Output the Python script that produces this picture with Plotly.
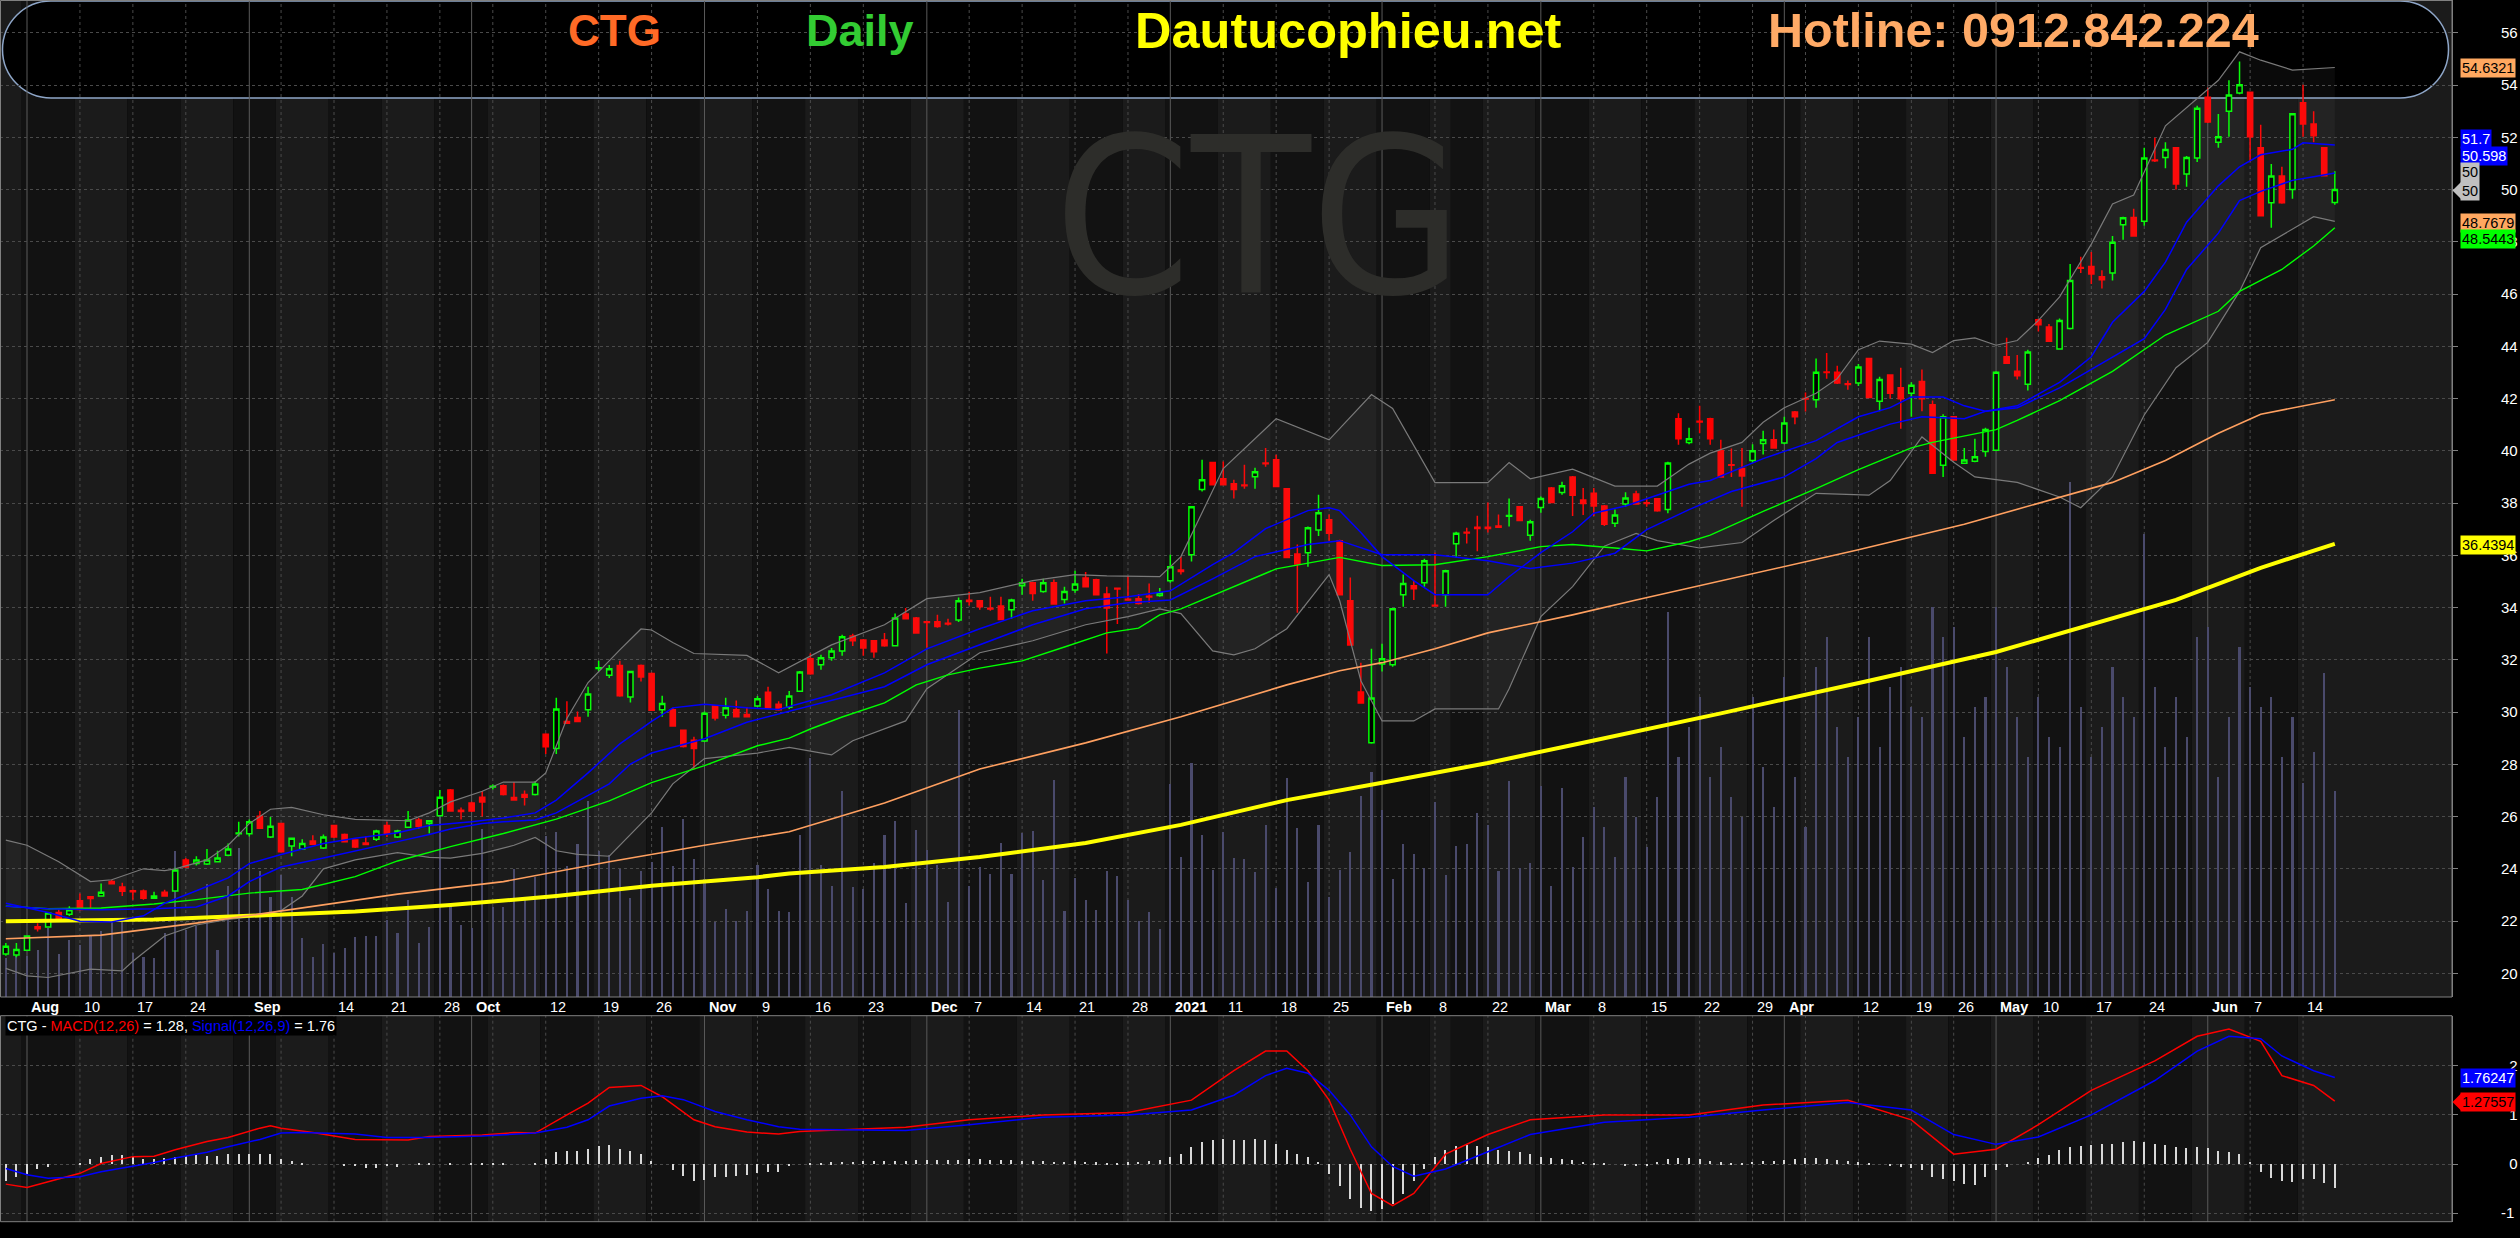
import pandas as pd
import plotly.graph_objects as go

W, H = 2520, 1238
FONT = "Liberation Sans, Arial, sans-serif"

# ---------------- calendar (HOSE sessions) ----------------
HOLIDAYS = ["2020-09-02", "2021-01-01", "2021-02-10", "2021-02-11", "2021-02-12",
            "2021-02-15", "2021-02-16", "2021-04-21", "2021-04-30", "2021-05-03"]
dates = [d.strftime("%Y-%m-%d") for d in pd.bdate_range("2020-07-30", "2021-06-17")
         if d.strftime("%Y-%m-%d") not in HOLIDAYS]
sess = list(range(len(dates)))
pos = {d: i for i, d in enumerate(dates)}

# ---------------- OHLC (thousand VND) ----------------
open_ = [20.74, 20.70, 20.88, 21.78, 21.77, 22.33, 22.26, 22.78, 22.93, 22.96,
         23.51, 23.30, 23.16, 23.15, 22.87, 23.10, 23.15, 24.34, 24.20, 24.18,
         24.27, 24.52, 25.34, 25.34, 26.01, 25.22, 25.73, 24.87, 24.76, 25.06,
         24.80, 25.66, 25.31, 25.10, 24.99, 25.13, 25.66, 25.22, 25.59, 25.87,
         25.73, 26.03, 27.02, 26.24, 26.52, 26.74, 27.13, 27.18, 26.73, 26.84,
         26.84, 29.15, 28.60, 29.64, 29.79, 30.09, 31.67, 31.41, 31.78, 30.58,
         31.78, 31.48, 30.09, 30.09, 29.30, 28.92, 28.89, 30.23, 29.88, 30.09,
         29.91, 30.23, 30.76, 30.30, 30.18, 30.80, 32.04, 31.81, 32.08, 32.34,
         32.91, 32.76, 32.73, 32.76, 32.54, 33.75, 33.60, 33.46, 33.46, 33.40,
         33.52, 34.28, 34.26, 33.97, 34.06, 33.92, 34.83, 34.95, 34.61, 34.95,
         34.31, 34.67, 35.13, 35.06, 34.52, 34.74, 34.32, 34.34, 34.43, 34.46,
         35.03, 35.44, 36.02, 38.52, 39.55, 38.93, 38.74, 38.69, 39.01, 39.53,
         39.66, 38.55, 36.05, 36.10, 36.97, 37.36, 36.56, 34.26, 30.77, 28.82,
         31.84, 31.81, 34.49, 34.83, 34.95, 34.09, 34.49, 36.44, 36.88, 37.07,
         37.07, 37.12, 37.49, 37.86, 36.77, 37.83, 38.58, 38.40, 39.00, 38.12,
         38.37, 37.89, 37.23, 37.96, 38.35, 38.01, 38.16, 37.75, 41.23, 40.32,
         41.13, 41.23, 40.00, 39.47, 39.32, 39.63, 40.28, 40.42, 40.30, 41.48,
         42.00, 41.95, 43.02, 43.01, 42.57, 42.59, 43.53, 41.90, 42.90, 42.41,
         42.20, 42.65, 41.76, 39.45, 41.30, 39.52, 39.60, 39.97, 40.02, 43.60,
         43.04, 42.55, 45.02, 44.74, 43.90, 44.68, 47.02, 47.05, 46.66, 46.80,
         48.65, 48.93, 48.79, 51.13, 51.23, 51.60, 50.59, 51.21, 53.53, 51.81,
         53.00, 53.69, 53.72, 51.60, 49.49, 50.52, 50.00, 53.32, 52.51, 51.60,
         49.50]
high = [21.16, 21.16, 21.45, 21.92, 22.33, 22.43, 22.57, 23.05, 22.95, 23.44,
        23.58, 23.47, 23.21, 23.21, 23.12, 23.20, 24.04, 24.41, 24.48, 24.76,
        24.69, 24.97, 25.80, 25.89, 26.21, 25.98, 25.76, 25.20, 25.13, 25.28,
        25.31, 25.69, 25.35, 25.13, 25.24, 25.49, 25.80, 25.49, 26.21, 25.94,
        25.87, 27.02, 27.05, 26.35, 26.57, 26.98, 27.23, 27.23, 27.32, 27.00,
        27.36, 29.19, 30.55, 30.41, 30.02, 30.97, 31.96, 31.80, 31.96, 31.58,
        31.82, 31.51, 30.62, 30.16, 29.33, 29.05, 30.02, 30.26, 30.55, 30.44,
        30.19, 30.61, 30.97, 30.41, 30.81, 31.57, 32.24, 32.19, 32.45, 32.96,
        33.00, 32.80, 32.76, 33.03, 33.77, 33.98, 33.64, 33.49, 33.72, 33.57,
        34.38, 34.60, 34.29, 34.41, 34.41, 34.34, 35.10, 34.99, 35.10, 35.07,
        34.80, 35.41, 35.36, 35.10, 34.80, 34.75, 35.21, 34.52, 34.92, 34.75,
        36.02, 35.95, 37.89, 39.66, 39.58, 39.59, 38.89, 39.47, 39.35, 40.11,
        39.85, 38.58, 36.41, 37.10, 38.32, 37.56, 36.59, 35.15, 31.89, 32.42,
        32.61, 33.98, 35.26, 35.03, 35.87, 36.10, 35.45, 36.90, 37.05, 37.51,
        38.02, 37.56, 38.17, 37.89, 37.36, 38.25, 38.61, 38.81, 39.03, 38.58,
        38.58, 37.92, 37.75, 38.41, 38.47, 38.16, 38.19, 39.58, 41.44, 40.88,
        41.72, 41.26, 40.42, 40.09, 40.11, 40.25, 40.77, 40.81, 41.30, 41.52,
        42.23, 43.53, 43.74, 43.25, 42.69, 43.32, 43.56, 42.83, 42.93, 43.18,
        42.62, 43.11, 41.92, 41.40, 41.33, 40.11, 40.46, 40.88, 43.04, 44.33,
        43.67, 43.87, 45.05, 44.85, 45.06, 47.15, 47.43, 47.61, 46.91, 48.22,
        48.96, 49.26, 51.60, 51.98, 51.81, 51.63, 51.28, 53.21, 53.90, 52.89,
        54.18, 54.90, 53.75, 52.48, 50.98, 50.87, 52.90, 54.01, 53.00, 51.63,
        50.70]
low = [20.67, 20.61, 20.85, 21.60, 21.75, 22.03, 22.19, 22.40, 22.47, 22.93,
       23.40, 22.96, 22.82, 22.82, 22.85, 22.93, 23.12, 24.03, 24.13, 24.15,
       24.24, 24.48, 25.24, 25.24, 25.52, 25.18, 24.62, 24.48, 24.72, 24.92,
       24.76, 25.18, 25.01, 24.80, 24.90, 25.06, 25.22, 25.18, 25.56, 25.52,
       25.35, 26.00, 26.18, 25.89, 26.17, 26.00, 27.04, 26.81, 26.60, 26.42,
       26.81, 28.39, 28.39, 29.54, 29.61, 29.82, 31.55, 31.30, 30.59, 30.37,
       31.17, 30.04, 29.82, 29.44, 28.64, 27.81, 28.85, 29.68, 29.75, 29.79,
       29.79, 30.19, 30.13, 30.05, 30.12, 30.77, 31.43, 31.62, 31.96, 32.15,
       32.53, 32.15, 32.08, 32.50, 32.51, 33.54, 33.00, 32.47, 33.23, 33.31,
       33.45, 34.08, 33.92, 33.88, 33.51, 33.57, 34.49, 34.26, 34.57, 34.11,
       34.15, 34.57, 34.77, 34.46, 32.24, 33.37, 34.26, 34.12, 34.18, 34.41,
       34.95, 35.26, 35.76, 38.44, 38.67, 38.67, 38.17, 38.55, 38.55, 39.39,
       38.60, 35.89, 33.80, 35.56, 36.74, 36.56, 34.46, 32.54, 30.32, 28.79,
       31.55, 31.73, 34.03, 34.29, 34.80, 34.03, 34.03, 35.92, 36.45, 36.15,
       36.87, 37.05, 37.10, 37.30, 36.56, 37.63, 37.99, 38.32, 37.50, 37.54,
       37.50, 37.12, 37.08, 37.86, 37.93, 37.86, 37.67, 37.61, 40.23, 40.25,
       40.67, 40.23, 38.97, 39.00, 37.86, 39.53, 39.86, 40.08, 40.25, 41.02,
       41.50, 41.65, 42.76, 42.56, 42.34, 42.48, 42.01, 41.51, 41.99, 40.84,
       41.30, 41.51, 39.11, 39.00, 39.62, 39.49, 39.56, 39.77, 39.99, 43.32,
       42.73, 42.31, 44.57, 44.16, 43.87, 44.64, 46.80, 46.38, 46.21, 46.52,
       48.08, 48.19, 48.61, 51.05, 50.81, 50.00, 50.11, 51.05, 52.55, 51.60,
       52.02, 53.65, 51.05, 48.97, 48.54, 49.46, 49.65, 52.02, 51.81, 50.50,
       49.42]
close = [21.04, 20.91, 21.43, 21.71, 22.31, 22.06, 22.43, 22.44, 22.86, 23.10,
         23.43, 23.14, 23.12, 22.87, 22.96, 22.96, 23.95, 24.07, 24.34, 24.34,
         24.41, 24.76, 25.37, 25.80, 25.55, 25.63, 24.65, 25.17, 24.97, 24.94,
         25.22, 25.22, 25.04, 24.83, 24.93, 25.45, 25.35, 25.45, 25.87, 25.63,
         25.84, 26.74, 26.21, 26.19, 26.21, 26.56, 27.16, 26.84, 26.63, 26.74,
         27.25, 28.67, 30.12, 29.57, 29.64, 30.69, 31.70, 31.66, 30.62, 31.55,
         31.34, 30.07, 30.33, 29.47, 28.68, 28.60, 29.95, 29.77, 30.16, 29.82,
         29.82, 30.51, 30.16, 30.09, 30.61, 31.53, 31.47, 32.08, 32.34, 32.88,
         32.73, 32.45, 32.31, 32.54, 33.60, 33.57, 33.03, 33.43, 33.27, 33.37,
         34.26, 34.23, 34.03, 33.94, 33.54, 34.29, 34.95, 34.54, 34.95, 34.14,
         34.61, 34.90, 34.80, 34.49, 33.98, 34.71, 34.29, 34.15, 34.40, 34.57,
         35.56, 35.38, 37.86, 38.89, 38.70, 38.70, 38.52, 38.66, 39.20, 39.50,
         38.63, 35.92, 35.67, 37.05, 37.63, 36.84, 34.49, 32.57, 30.35, 30.54,
         32.04, 33.95, 34.92, 34.72, 35.79, 34.06, 35.41, 36.84, 36.85, 37.03,
         37.03, 37.07, 37.52, 37.33, 37.28, 38.17, 38.02, 38.66, 38.30, 37.98,
         37.89, 37.19, 37.54, 38.19, 37.96, 37.98, 37.70, 39.53, 40.46, 40.46,
         41.10, 40.46, 39.00, 39.45, 39.03, 40.00, 40.42, 40.11, 41.06, 41.30,
         41.98, 43.01, 43.00, 42.59, 42.54, 43.21, 42.04, 42.73, 42.20, 41.99,
         42.51, 41.99, 39.14, 41.30, 39.65, 39.65, 39.77, 40.81, 43.01, 43.35,
         42.87, 43.78, 44.82, 44.19, 44.99, 46.52, 46.99, 46.77, 46.55, 47.98,
         48.92, 48.22, 51.21, 51.10, 51.53, 50.21, 51.23, 53.11, 52.58, 52.02,
         53.62, 54.01, 52.02, 49.00, 50.52, 49.49, 52.90, 52.51, 52.06, 50.53,
         50.00]
# volume (millions of shares)
volume = [3.9, 4.1, 4.1, 4.7, 6.9, 4.3, 5.7, 5.2, 6.1, 6.6,
          7.7, 7.9, 4.4, 4.0, 3.9, 6.4, 14.6, 6.7, 7.1, 11.3,
          4.7, 11.1, 14.9, 8.0, 12.6, 10.0, 12.2, 10.0, 5.9, 4.0,
          5.3, 4.4, 4.9, 6.0, 6.1, 6.1, 7.7, 6.4, 9.7, 5.4,
          7.0, 18.3, 9.3, 7.2, 6.9, 16.8, 9.0, 9.0, 12.8, 9.9,
          12.0, 16.1, 16.5, 13.1, 15.3, 19.6, 14.6, 14.2, 12.8, 9.9,
          12.6, 13.5, 17.0, 13.1, 17.8, 13.8, 11.8, 7.5, 8.8, 7.6,
          8.6, 13.2, 10.8, 8.6,
          8.5, 16.2, 23.9, 13.2, 11.1, 20.6, 11.0, 10.8, 13.4, 16.2,
          17.6, 9.4, 16.7, 14.7, 13.2, 9.5, 28.7, 11.1, 13.0, 12.3,
          15.4, 12.3, 16.4, 16.6, 11.7, 21.7, 8.6, 11.9, 9.7, 8.7,
          12.6, 12.1, 9.7, 7.6, 8.5, 6.8, 21.3, 14.0, 23.4, 16.2,
          12.7, 16.5, 13.9, 13.8, 12.5, 17.2, 10.9, 21.9, 16.9, 11.5,
          17.2, 10.0, 12.7, 14.5, 20.1, 22.5, 18.7, 11.8, 15.3, 14.3,
          12.9, 19.5, 12.2, 15.1, 15.3, 18.4, 17.2, 12.6, 21.6, 12.9,
          13.4, 21.1, 11.1, 20.9,
          13, 16, 19, 17, 14, 22, 18, 15, 20, 38.5,
          24, 27, 30, 22, 25, 20, 18, 30, 23, 19,
          32, 22, 17, 33, 36, 27, 24, 28, 36, 25,
          31, 33, 29, 28, 39, 36, 37, 26, 29, 30,
          39, 33, 28, 24, 30, 26, 25, 51.5, 29, 24,
          27, 33, 30, 28, 46.3, 31, 25, 30, 26, 36,
          37, 22, 28, 35, 31, 29, 30, 24, 28, 21.4,
          24.5, 32.4, 20.6]

# ---------------- indicator lines (session index, value) ----------------
ma_fast_s = [0, 4, 7, 10, 13, 15, 18, 21, 23, 26, 30, 33, 37, 40, 44, 47, 50, 52, 55, 58,
             61, 63, 66, 70, 73, 78, 83, 87, 92, 97, 102, 106, 110, 114, 116, 119, 123, 125, 126, 128,
             130, 133, 135, 140, 142, 145, 148, 150, 153, 155, 159, 161, 166, 171, 175, 178, 180, 183, 185, 187,
             190, 194, 197, 199, 202, 204, 206, 209, 211, 213, 216, 217, 220]
ma_fast_v = [22.68, 22.33, 21.99, 21.96, 22.2, 22.68, 23.16, 23.65, 24.2, 24.55, 24.97, 25.17, 25.38, 25.66, 25.8, 25.94, 26.14, 26.63, 27.67, 28.78,
             29.64, 30.16, 30.3, 30.16, 30.1, 30.66, 31.5, 32.42, 33.19, 33.88, 34.26, 34.41, 34.64, 35.64, 36.1, 37.02, 37.71, 37.82, 37.71, 36.87,
             35.95, 35.03, 34.49, 34.49, 35.18, 36.1, 36.9, 37.61, 37.89, 38.16, 38.72, 38.86, 39.7, 40.39, 41.3, 41.65, 42.06, 42.06, 41.72, 41.51,
             41.72, 42.62, 43.6, 44.92, 46.1, 47.22, 48.75, 50.14, 50.87, 51.33, 51.54, 51.79, 51.7]
ma_slow_s = [0, 4, 9, 14, 18, 21, 23, 26, 30, 33, 37, 40, 42, 45, 47, 50, 52, 57, 59, 61,
             66, 70, 74, 78, 83, 87, 92, 97, 102, 106, 110, 114, 118, 123, 126, 130, 135, 140, 144, 148,
             152, 155, 159, 163, 168, 171, 173, 178, 181, 185, 187, 190, 194, 199, 202, 204, 206, 209, 211, 213,
             216, 218, 220]
ma_slow_v = [22.57, 22.47, 22.43, 22.47, 22.54, 22.96, 23.51, 24.07, 24.41, 24.69, 25.04, 25.31, 25.52, 25.73, 25.8, 25.87, 26.14, 27.25, 28.01, 28.43,
             28.98, 29.61, 30.03, 30.43, 30.97, 31.81, 32.57, 33.34, 33.95, 34.18, 34.29, 35.1, 35.95, 36.41, 36.56, 36.02, 36.02, 35.79, 35.49, 35.7,
             36.08, 36.98, 37.75, 38.44, 39.0, 39.7, 40.32, 41.02, 41.3, 41.23, 41.51, 41.65, 42.41, 43.6, 44.29, 45.41, 46.94, 48.33, 49.58, 49.93,
             50.35, 50.49, 50.63]
ma_green_s = [0, 4, 9, 14, 18, 23, 28, 33, 37, 42, 47, 52, 57, 61, 66, 71, 74, 76, 79, 83,
              86, 89, 92, 96, 100, 104, 107, 109, 111, 116, 120, 126, 130, 135, 140, 145, 148, 152, 155, 159,
              161, 166, 171, 175, 180, 182, 185, 188, 190, 194, 199, 204, 209, 211, 213, 215, 218, 220]
ma_green_v = [22.57, 22.47, 22.5, 22.65, 22.82, 23.07, 23.21, 23.7, 24.3, 24.85, 25.35, 25.9, 26.6, 27.3, 27.95, 28.71, 29.0, 29.35, 29.81, 30.35,
              31.04, 31.42, 31.68, 31.96, 32.49, 33.03, 33.21, 33.72, 33.95, 34.79, 35.48, 35.92, 35.61, 35.64, 35.95, 36.33, 36.41, 36.28, 36.17, 36.52,
              36.77, 37.68, 38.55, 39.28, 40.11, 40.32, 40.56, 40.81, 41.16, 41.92, 43.04, 44.43, 45.34, 46.1, 46.52, 46.94, 47.84, 48.54]
ma_orange_s = [0, 9, 18, 28, 37, 47, 57, 66, 74, 83, 92, 102, 111, 121, 126, 130, 135, 140, 148, 154,
               166, 175, 185, 194, 199, 204, 209, 213, 220]
ma_orange_v = [21.32, 21.46, 21.92, 22.51, 23.03, 23.51, 24.27, 24.9, 25.42, 26.52, 27.82, 28.82, 29.82, 31.04, 31.58, 31.89, 32.42, 33.03, 33.72, 34.29,
               35.38, 36.21, 37.19, 38.23, 38.79, 39.63, 40.67, 41.4, 41.95]
ma_yellow_s = [0, 14, 23, 33, 42, 52, 61, 71, 74, 83, 92, 102, 111, 121, 130, 140, 148, 162, 176, 188, 205, 213, 220]
ma_yellow_v = [21.99, 22.06, 22.2, 22.37, 22.61, 22.96, 23.35, 23.68, 23.82, 24.07, 24.45, 24.99, 25.68, 26.63, 27.29, 28.05, 28.74,
               29.95, 31.2, 32.3, 34.29, 35.52, 36.44]
bb_up_s = [0, 2, 5, 8, 10, 13, 15, 16, 19, 21, 23, 25, 27, 30, 33, 38, 40, 42, 45, 47,
           50, 51, 53, 55, 58, 60, 61, 63, 65, 70, 73, 78, 83, 87, 92, 97, 101, 104, 109, 111,
           115, 120, 125, 129, 131, 135, 140, 142, 144, 148, 152, 156, 159, 161, 164, 166, 168, 171, 173, 175,
           177, 180, 182, 184, 186, 188, 190, 192, 194, 197, 199, 201, 204, 206, 209, 211, 213, 216, 220]
bb_up_v = [25.1, 24.9, 24.27, 23.51, 23.58, 24.0, 23.93, 24.0, 24.34, 24.9, 25.73, 26.28, 26.35, 26.07, 25.89, 25.84, 26.14, 26.56, 26.97, 27.32,
           27.32, 27.67, 29.75, 31.13, 32.38, 33.18, 33.14, 32.66, 32.24, 32.17, 31.5, 32.57, 33.34, 34.34, 34.57, 35.03, 35.26, 35.21, 35.18, 35.95,
           39.32, 41.23, 40.42, 42.15, 41.62, 38.78, 38.78, 39.55, 38.93, 39.3, 38.65, 38.65, 39.49, 39.91, 40.32, 41.09, 41.65, 42.2, 42.76, 43.87,
           44.2, 44.08, 43.76, 44.22, 44.32, 44.04, 44.22, 44.99, 45.89, 47.91, 49.45, 49.79, 52.44, 53.14, 54.18, 55.27, 54.95, 54.57, 54.67]
bb_lo_s = [0, 2, 4, 8, 11, 12, 15, 18, 21, 24, 26, 28, 30, 33, 37, 40, 42, 45, 48, 50,
           52, 54, 57, 59, 61, 63, 66, 71, 74, 78, 80, 85, 87, 92, 97, 102, 106, 109, 111, 114,
           116, 118, 121, 125, 126, 128, 130, 133, 135, 141, 142, 145, 148, 151, 154, 156, 160, 164, 167, 171,
           174, 176, 178, 181, 184, 186, 190, 192, 194, 196, 199, 202, 205, 208, 211, 213, 216, 218, 220]
bb_lo_v = [20.19, 19.9, 19.84, 20.16, 20.09, 20.46, 21.43, 21.85, 22.06, 22.2, 22.4, 22.96, 24.0, 24.34, 24.62, 24.44, 24.41, 24.59, 24.9, 25.2,
           24.69, 24.55, 24.48, 25.31, 26.14, 27.25, 28.22, 28.43, 28.65, 28.36, 28.9, 29.66, 30.89, 32.27, 32.73, 33.34, 33.65, 33.95, 33.77, 32.34,
           32.19, 32.42, 33.19, 35.26, 34.26, 31.2, 29.66, 29.66, 30.12, 30.12, 30.89, 33.65, 34.8, 36.35, 36.84, 36.56, 36.28, 36.49, 37.33, 38.37,
           38.33, 38.3, 38.86, 40.53, 39.56, 39.0, 38.79, 38.51, 38.23, 37.82, 39.0, 41.37, 43.18, 44.15, 46.1, 47.77, 48.47, 48.96, 48.78]
macd_s = [0, 2, 4, 7, 9, 12, 14, 16, 19, 21, 24, 25, 26, 29, 33, 38, 40, 45, 48, 50,
          53, 55, 57, 60, 62, 65, 67, 70, 73, 75, 85, 91, 98, 106, 112, 116, 119, 121, 123, 125,
          127, 129, 131, 133, 136, 140, 144, 151, 159, 166, 174, 180, 184, 188, 192, 197, 203, 207, 210, 213,
          215, 218, 220]
macd_v = [-0.41, -0.48, -0.36, -0.19, 0.01, 0.15, 0.16, 0.29, 0.46, 0.54, 0.73, 0.78, 0.73, 0.64, 0.5, 0.49, 0.56, 0.59, 0.64, 0.63,
          1.0, 1.24, 1.56, 1.6, 1.37, 0.9, 0.76, 0.65, 0.61, 0.66, 0.75, 0.9, 1.0, 1.05, 1.3, 1.9, 2.3, 2.3, 1.9, 1.3,
          0.3, -0.6, -0.85, -0.6, 0.2, 0.6, 0.9, 1.0, 1.0, 1.2, 1.3, 0.9, 0.2, 0.3, 0.8, 1.5, 2.1, 2.6, 2.75, 2.5,
          1.8, 1.6, 1.28]
sig_s = [0, 2, 4, 7, 9, 12, 14, 16, 19, 21, 24, 26, 28, 33, 36, 40, 45, 50, 53, 55,
         57, 60, 62, 64, 67, 70, 73, 75, 85, 91, 98, 106, 112, 116, 119, 121, 123, 125, 127, 129,
         131, 133, 136, 140, 144, 151, 159, 166, 174, 180, 184, 188, 192, 197, 203, 207, 210, 213, 215, 218,
         220]
sig_v = [-0.09, -0.22, -0.29, -0.26, -0.16, -0.05, 0.03, 0.12, 0.24, 0.35, 0.5, 0.63, 0.64, 0.61, 0.54, 0.54, 0.57, 0.63, 0.75, 0.9,
         1.18, 1.34, 1.39, 1.31, 1.07, 0.9, 0.76, 0.71, 0.68, 0.8, 0.95, 1.0, 1.1, 1.4, 1.8, 1.95, 1.85, 1.5, 1.0, 0.35,
         -0.05, -0.25, -0.1, 0.25, 0.6, 0.85, 0.95, 1.1, 1.25, 1.1, 0.6, 0.4, 0.55, 1.0, 1.7, 2.3, 2.6, 2.55, 2.2, 1.9,
         1.76]
hist = [-0.33, -0.26, -0.19, -0.09, -0.05, 0.0, 0.0, 0.03, 0.1, 0.15,
        0.18, 0.18, 0.15, 0.1, 0.1, 0.12, 0.15, 0.16, 0.18, 0.16,
        0.17, 0.2, 0.22, 0.22, 0.22, 0.2, 0.1, 0.06, 0.01, 0.0,
        0.0, 0.0, -0.02, -0.03, -0.07, -0.07, -0.02, -0.05, 0.0, 0.01,
        0.01, 0.0, 0.01, 0.0, 0.01, 0.01, 0.02, 0.01, 0.0, 0.0,
        0.01, 0.1, 0.25, 0.27, 0.27, 0.32, 0.37, 0.39, 0.31, 0.27,
        0.2, 0.06, 0.0, -0.12, -0.24, -0.34, -0.31, -0.26, -0.26, -0.23,
        -0.22, -0.18, -0.16, -0.16, -0.04, 0.0,
        0.02, 0.03, 0.04, 0.05, 0.05, 0.06, 0.06, 0.07, 0.07, 0.07, 0.08,
        0.08, 0.08, 0.09, 0.09, 0.1, 0.1, 0.09, 0.08, 0.08, 0.07, 0.07, 0.06,
        0.05, 0.05, 0.06, 0.05, 0.04, 0.03, 0.03, 0.04, 0.05, 0.06, 0.08,
        0.15, 0.2, 0.35, 0.45, 0.5, 0.52, 0.5, 0.5, 0.52, 0.5, 0.42, 0.3, 0.2, 0.15, 0.05,
        -0.2, -0.45, -0.7, -0.88, -0.95, -0.9, -0.8, -0.6, -0.35, -0.1, 0.15, 0.3,
        0.38, 0.4, 0.38, 0.35, 0.3, 0.28, 0.25, 0.2, 0.15, 0.12, 0.1, 0.08, 0.05, 0.03,
        0.02, 0.0, -0.02, -0.03, -0.02, 0.05, 0.1, 0.12, 0.12, 0.1, 0.07, 0.04, 0.02, 0.03, 0.05, 0.06, 0.07, 0.08, 0.1, 0.12,
        0.12, 0.1, 0.08, 0.06, 0.04, 0.02, 0.0, -0.03, -0.05, -0.08, -0.12,
        -0.25, -0.3, -0.35, -0.4, -0.42, -0.25, -0.12, -0.05, 0.0, 0.05,
        0.12, 0.18, 0.3, 0.35, 0.38, 0.4, 0.42, 0.42, 0.45, 0.47, 0.45, 0.42, 0.4, 0.35, 0.33,
        0.35, 0.33, 0.28, 0.25, 0.2, 0.05, -0.15, -0.28, -0.35, -0.36,
        -0.29, -0.29, -0.39, -0.48]

# ---------------- axis labels / text ----------------
tick_dates = ["2020-08-03", "2020-08-10", "2020-08-17", "2020-08-24", "2020-09-01", "2020-09-14", "2020-09-21",
              "2020-09-28", "2020-10-01", "2020-10-12", "2020-10-19", "2020-10-26", "2020-11-02", "2020-11-09",
              "2020-11-16", "2020-11-23", "2020-12-01", "2020-12-07", "2020-12-14", "2020-12-21", "2020-12-28",
              "2021-01-04", "2021-01-11", "2021-01-18", "2021-01-25", "2021-02-01", "2021-02-08", "2021-02-22",
              "2021-03-01", "2021-03-08", "2021-03-15", "2021-03-22", "2021-03-29", "2021-04-01", "2021-04-12",
              "2021-04-19", "2021-04-26", "2021-05-04", "2021-05-10", "2021-05-17", "2021-05-24", "2021-06-01",
              "2021-06-07", "2021-06-14"]
tick_text = ["Aug", "10", "17", "24", "Sep", "14", "21", "28", "Oct", "12", "19", "26", "Nov", "9", "16", "23",
             "Dec", "7", "14", "21", "28", "2021", "11", "18", "25", "Feb", "8", "22", "Mar", "8", "15", "22", "29",
             "Apr", "12", "19", "26", "May", "10", "17", "24", "Jun", "7", "14"]
month_dates = ["2020-08-03", "2020-09-01", "2020-10-01", "2020-11-02", "2020-12-01", "2021-01-04",
               "2021-02-01", "2021-03-01", "2021-04-01", "2021-05-04", "2021-06-01"]
extra_week_dates = ["2020-09-07", "2020-10-05", "2021-04-05"]
price_ticks = list(range(20, 57, 2))
macd_ticks = [-1, 0, 1, 2]
last_tags = [("54.6321", "#ffa860", "black"), ("51.7", "#0000ff", "white"), ("50.598", "#0000ff", "white"),
             ("48.7679", "#ffa860", "black"), ("48.5443", "#00ff00", "black"), ("36.4394", "#ffff00", "black")]
macd_tags = [("1.76247", "#0000ff", "white"), ("1.27557", "#ff0000", "black")]
last_close_tag = "50<br>50"

# ---------------- geometry ----------------
def pxx(x):
    return x / W


def pxy(y):
    return 1 - y / H


MAIN_DOM = [pxy(997), 1.0]
MACD_DOM = [pxy(1221.7), pxy(1015.7)]
X_DOM = [0, 2452 / W]
X_RANGE = [-0.5505, 231.07]
PRICE_RANGE = [19.093, 57.254]
MACD_RANGE = [-1.175, 3.02]
VOL_RANGE = [0, 99.7]

fig = go.Figure()

# volume
fig.add_trace(go.Bar(x=sess, y=volume, width=0.2, marker=dict(color="#4a4a6c", line=dict(width=0)),
                     xaxis="x", yaxis="y", hoverinfo="skip", showlegend=False))
# Bollinger bands
fig.add_trace(go.Scatter(x=bb_lo_s, y=bb_lo_v, mode="lines", line=dict(color="#7a7a7a", width=1.2),
                         xaxis="x", yaxis="y3", hoverinfo="skip", showlegend=False))
fig.add_trace(go.Scatter(x=bb_up_s, y=bb_up_v, mode="lines", line=dict(color="#7a7a7a", width=1.2),
                         fill="tonexty", fillcolor="rgba(200,200,200,0.05)",
                         xaxis="x", yaxis="y3", hoverinfo="skip", showlegend=False))
# moving averages
for s, v, col, wd in [(ma_yellow_s, ma_yellow_v, "#ffff00", 4),
                      (ma_orange_s, ma_orange_v, "#ffa060", 1.6),
                      (ma_green_s, ma_green_v, "#00ff00", 1.4),
                      (ma_slow_s, ma_slow_v, "#0000ff", 1.5),
                      (ma_fast_s, ma_fast_v, "#0000ff", 1.5)]:
    fig.add_trace(go.Scatter(x=s, y=v, mode="lines", line=dict(color=col, width=wd),
                             xaxis="x", yaxis="y3", hoverinfo="skip", showlegend=False))
# candles
fig.add_trace(go.Candlestick(x=sess, open=open_, high=high, low=low, close=close,
                             increasing=dict(line=dict(color="#00ff00", width=1.5), fillcolor="#000000"),
                             decreasing=dict(line=dict(color="#ff0000", width=1.5), fillcolor="#ff0000"),
                             whiskerwidth=0, xaxis="x", yaxis="y3", hoverinfo="skip", showlegend=False))
# MACD
fig.add_trace(go.Bar(x=sess, y=hist, width=0.12, marker=dict(color="#d8d8d8", line=dict(width=0)),
                     xaxis="x2", yaxis="y2", hoverinfo="skip", showlegend=False))
fig.add_trace(go.Scatter(x=macd_s, y=macd_v, mode="lines", line=dict(color="#ff0000", width=1.5),
                         xaxis="x2", yaxis="y2", hoverinfo="skip", showlegend=False))
fig.add_trace(go.Scatter(x=sig_s, y=sig_v, mode="lines", line=dict(color="#0000ff", width=1.5),
                         xaxis="x2", yaxis="y2", hoverinfo="skip", showlegend=False))

shapes = []
# background stripes (alternate weeks)
week_start = [0]
for i in range(1, len(dates)):
    a, b = pd.Timestamp(dates[i - 1]), pd.Timestamp(dates[i])
    if b.weekday() < a.weekday() or (b - a).days > 4:
        week_start.append(i)
edges = week_start + [X_RANGE[1] + 0.5]
for j in range(len(week_start)):
    col = "#1b1b1b" if j % 2 == 0 else "#121212"
    x0 = max(edges[j] - 0.5, X_RANGE[0])
    x1 = min(edges[j + 1] - 0.5, X_RANGE[1])
    for dom in (MAIN_DOM, MACD_DOM):
        shapes.append(dict(type="rect", xref="x", yref="paper", x0=x0, x1=x1, y0=dom[0], y1=dom[1],
                           fillcolor=col, line=dict(width=0), layer="below"))


# title box (stadium shape)
def P(x, y):
    return f"{pxx(x):.6f},{pxy(y):.6f}"


r, k = 48.5, 0.5523
cyb = 49.5
xl, xr = 51.0, 2400.0
path = (f"M {P(xr, 1)} L {P(xl, 1)} "
        f"C {P(xl - k * r, 1)} {P(xl - r, cyb - k * r)} {P(xl - r, cyb)} "
        f"C {P(xl - r, cyb + k * r)} {P(xl - k * r, 98)} {P(xl, 98)} "
        f"L {P(xr, 98)} "
        f"C {P(xr + k * r, 98)} {P(xr + r, cyb + k * r)} {P(xr + r, cyb)} "
        f"C {P(xr + r, cyb - k * r)} {P(xr + k * r, 1)} {P(xr, 1)} Z")
shapes.append(dict(type="path", xref="paper", yref="paper", path=path, fillcolor="#000000",
                   line=dict(color="#8ea6c8", width=1.5), layer="below"))

# vertical grid lines
week_dates = [d for d in tick_dates if d not in month_dates] + extra_week_dates
for d in week_dates + month_dates:
    solid = d in month_dates
    for dom in (MAIN_DOM, MACD_DOM):
        shapes.append(dict(type="line", xref="x", yref="paper", x0=pos[d], x1=pos[d], y0=dom[0], y1=dom[1],
                           line=dict(color="#5a5a5a" if solid else "#4a4a4a", width=1,
                                     dash="solid" if solid else "dot"), layer="below"))
# panel borders
for y0, y1 in ((0.5, 997), (1015.7, 1221.7)):
    shapes.append(dict(type="rect", xref="paper", yref="paper", x0=pxx(0.5), x1=pxx(2452), y0=pxy(y1), y1=pxy(y0),
                       line=dict(color="#808080", width=1), fillcolor="rgba(0,0,0,0)", layer="above"))
# tag arrows
for tip_y, col in ((190.5, "#c0c0c0"), (1102, "#ff0000")):
    shapes.append(dict(type="path", xref="paper", yref="paper",
                       path=f"M {P(2452.5, tip_y)} L {P(2461, tip_y - 8.5)} L {P(2461, tip_y + 8.5)} Z",
                       fillcolor=col, line=dict(width=0), layer="above"))

ann = []
# header
for txt, x, size, col in (("CTG", 566, 44, "#ff6a26"), ("Daily", 804, 45, "#33cc33"),
                          ("Dautucophieu.net", 1133, 50.5, "#ffff00"),
                          ("Hotline: 0912.842.224", 1766, 48.5, "#ffaa66")):
    ann.append(dict(text=f"<b>{txt}</b>", xref="paper", yref="paper", x=pxx(x), y=pxy(30.5),
                    xanchor="left", yanchor="middle", showarrow=False,
                    font=dict(family=FONT, size=size, color=col)))
# watermark
ann.append(dict(text="CTG", xref="paper", yref="paper", x=pxx(1258), y=pxy(217), xanchor="center",
                yanchor="middle", showarrow=False,
                font=dict(family="DejaVu Sans Condensed, Liberation Sans, sans-serif",
                          size=218, color="#2d2d2a")))
# MACD header
ann.append(dict(text=("CTG - <span style='color:#ff0000'>MACD(12,26)</span> = 1.28, "
                      "<span style='color:#0000ff'>Signal(12,26,9)</span> = 1.76"),
                xref="paper", yref="paper", x=pxx(5), y=pxy(1025.5), xanchor="left", yanchor="middle",
                showarrow=False, bgcolor="#000000", borderpad=1,
                font=dict(family=FONT, size=14.5, color="#ffffff")))
# date labels
months_bold = {"Aug", "Sep", "Oct", "Nov", "Dec", "2021", "Feb", "Mar", "Apr", "May", "Jun"}
for d, t in zip(tick_dates, tick_text):
    ann.append(dict(text=f"<b>{t}</b>" if t in months_bold else t, xref="x", yref="paper",
                    x=pos[d] + 0.22, y=pxy(1006.5), xanchor="left", yanchor="middle", showarrow=False,
                    font=dict(family=FONT, size=14.5, color="#ffffff")))
# last-value tags
for (txt, bg, fg), cy in zip(last_tags, (68.3, 139, 155.7, 222.5, 239.5, 544.7)):
    ann.append(dict(text=txt, xref="paper", yref="paper", x=pxx(2460), y=pxy(cy), xanchor="left",
                    yanchor="middle", showarrow=False, bgcolor=bg, borderpad=1,
                    font=dict(family=FONT, size=14.5, color=fg)))
ann.append(dict(text=last_close_tag, xref="paper", yref="paper", x=pxx(2460), y=pxy(181), xanchor="left",
                yanchor="middle", showarrow=False, bgcolor="#c0c0c0", borderpad=1,
                font=dict(family=FONT, size=14.5, color="black")))
for (txt, bg, fg), cy in zip(macd_tags, (1077.5, 1102)):
    ann.append(dict(text=txt, xref="paper", yref="paper", x=pxx(2460), y=pxy(cy), xanchor="left",
                    yanchor="middle", showarrow=False, bgcolor=bg, borderpad=1,
                    font=dict(family=FONT, size=14.5, color=fg)))

grid = dict(gridcolor="#4a4a4a", griddash="dot", gridwidth=1)
fig.update_layout(
    width=W, height=H, margin=dict(l=0, r=0, t=0, b=0),
    paper_bgcolor="#000000", plot_bgcolor="rgba(0,0,0,0)",
    showlegend=False, bargap=0, barmode="overlay",
    xaxis=dict(domain=X_DOM, range=X_RANGE, anchor="y", showgrid=False, showticklabels=False,
               zeroline=False, rangeslider=dict(visible=False), fixedrange=True),
    xaxis2=dict(domain=X_DOM, range=X_RANGE, anchor="y2", matches="x", showgrid=False,
                showticklabels=False, zeroline=False),
    yaxis=dict(domain=MAIN_DOM, range=VOL_RANGE, visible=False, showgrid=False, zeroline=False),
    yaxis3=dict(domain=MAIN_DOM, range=PRICE_RANGE, overlaying="y", anchor="x", side="right",
                tickvals=price_ticks, ticks="outside", ticklen=5, tickcolor="#808080",
                showline=True, linecolor="#808080", zeroline=False, ticklabelstandoff=40,
                tickfont=dict(family=FONT, size=15, color="#ffffff"), **grid),
    yaxis2=dict(domain=MACD_DOM, range=MACD_RANGE, anchor="x2", side="right",
                tickvals=macd_ticks, ticktext=["-1", "\u20070", "\u20071", "\u20072"],
                ticks="outside", ticklen=5, tickcolor="#808080", showline=True, linecolor="#808080",
                zeroline=False, ticklabelstandoff=40,
                tickfont=dict(family=FONT, size=15, color="#ffffff"), **grid),
    shapes=shapes, annotations=ann,
)

assert len(open_) == len(high) == len(low) == len(close) == len(volume) == len(hist) == len(dates) == 221
fig.write_html("out.html", config={"displayModeBar": False},
               post_script="document.body.style.margin='0px';document.body.style.overflow='hidden';")
